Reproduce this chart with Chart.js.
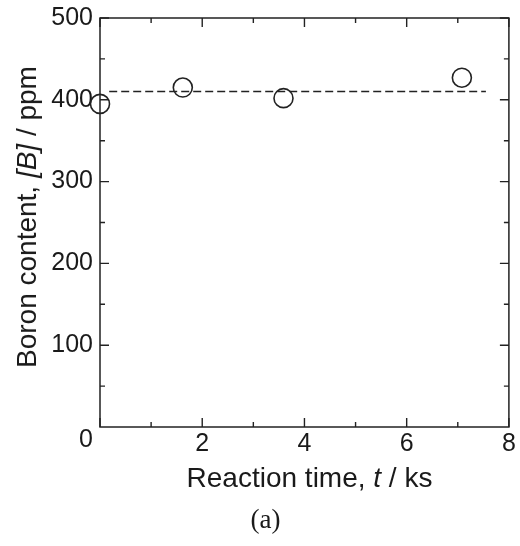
<!DOCTYPE html>
<html>
<head>
<meta charset="utf-8">
<script src="https://cdn.jsdelivr.net/npm/chart.js@4"></script>
<style>
  html, body { margin: 0; padding: 0; background: #fff; }
  #wrap { position: relative; width: 520px; height: 546px; }
  canvas { position: absolute; left: 0; top: 0; }
  .lbl { position: absolute; white-space: nowrap; line-height: 1; color: #1a1a1a;
         font-family: "Liberation Sans", Arial, sans-serif; font-size: 28px; }
  #xTitle { left: 104px; width: 411px; top: 464px; text-align: center; }
  #yTitle { left: 27px; top: 217px; transform: translate(-50%, -50%) rotate(-90deg); }
  #caption { left: 0; width: 531px; top: 506px; text-align: center;
             font-family: "Liberation Serif", "Times New Roman", serif; font-size: 27px; }
</style>
</head>
<body>
<div id="wrap">
  <canvas id="chart" width="520" height="546"></canvas>
  <div class="lbl" id="yTitle">Boron content, <i>[B]</i> / ppm</div>
  <div class="lbl" id="xTitle">Reaction time, <i>t</i> / ks</div>
  <div class="lbl" id="caption">(a)</div>
</div>
<script>
// measured points
const times = [0.0, 1.62, 3.59, 7.08];
const boron = [395, 415, 402, 427];

// dashed average line
const avgX = [0.18, 7.55];
const avgY = [410, 410];

// ticks
const xTicks = [0, 2, 4, 6, 8];
const xMinor = [1, 3, 5, 7];
const yTicks = [100, 200, 300, 400, 500];
const yMinor = [50, 150, 250, 350, 450];

const TICK_FONT = { family: "'Liberation Sans', Arial, sans-serif", size: 25 };

// frame + inward ticks on all four sides
const framePlugin = {
  id: "frame",
  afterDraw(chart) {
    const { ctx, chartArea: a, scales } = chart;
    const xs = scales.x, ys = scales.y;
    ctx.save();
    ctx.strokeStyle = "#222";
    ctx.lineWidth = 1.5;
    ctx.strokeRect(a.left, a.top, a.right - a.left, a.bottom - a.top);

    ctx.lineWidth = 1.4;
    ctx.beginPath();
    const xt = (v, len) => {
      const px = xs.getPixelForValue(v);
      ctx.moveTo(px, a.bottom); ctx.lineTo(px, a.bottom - len);
      ctx.moveTo(px, a.top); ctx.lineTo(px, a.top + len);
    };
    const yt = (v, len) => {
      const py = ys.getPixelForValue(v);
      ctx.moveTo(a.left, py); ctx.lineTo(a.left + len, py);
      ctx.moveTo(a.right, py); ctx.lineTo(a.right - len, py);
    };
    xTicks.forEach(v => xt(v, 9));
    xMinor.forEach(v => xt(v, 5));
    yTicks.forEach(v => yt(v, 9));
    yMinor.forEach(v => yt(v, 5));
    ctx.stroke();

    // shared origin label sits left of the corner
    ctx.fillStyle = "#1a1a1a";
    ctx.font = TICK_FONT.size + "px " + TICK_FONT.family;
    ctx.textAlign = "center";
    ctx.textBaseline = "middle";
    ctx.fillText("0", xs.getPixelForValue(0) - 14, a.bottom + 13);
    ctx.restore();
  }
};

new Chart(document.getElementById("chart"), {
  type: "scatter",
  data: {
    datasets: [
      {
        data: times.map((t, i) => ({ x: t, y: boron[i] })),
        pointStyle: "circle",
        pointRadius: 9.5,
        pointBorderWidth: 1.6,
        pointBorderColor: "#222",
        pointBackgroundColor: "rgba(0,0,0,0)",
        showLine: false,
        clip: false
      },
      {
        type: "line",
        data: avgX.map((t, i) => ({ x: t, y: avgY[i] })),
        borderColor: "#222",
        borderWidth: 1.5,
        borderDash: [8, 4],
        pointRadius: 0,
        fill: false
      }
    ]
  },
  options: {
    responsive: false,
    animation: false,
    layout: { padding: { left: 0, right: 9, top: 18, bottom: 0 } },
    plugins: { legend: { display: false }, tooltip: { enabled: false } },
    scales: {
      x: {
        type: "linear",
        min: 0, max: 8,
        grid: { drawOnChartArea: false, drawTicks: false },
        border: { display: false },
        ticks: {
          stepSize: 2,
          padding: 2,
          color: "#1a1a1a",
          font: TICK_FONT,
          maxRotation: 0,
          callback: v => (xTicks.includes(v) && v !== 0 ? String(v) : "")
        },
        afterFit(s) {
          s.height = 119;
          s.paddingLeft = 0; s.paddingRight = 0;
        }
      },
      y: {
        min: 0, max: 500,
        grid: { drawOnChartArea: false, drawTicks: false },
        border: { display: false },
        ticks: {
          stepSize: 100,
          padding: 7,
          color: "#1a1a1a",
          font: TICK_FONT,
          callback: v => (yTicks.includes(v) ? String(v) : "")
        },
        afterFit(s) {
          s.width = 100;
          s.paddingTop = 0; s.paddingBottom = 0;
        }
      }
    }
  },
  plugins: [framePlugin]
});
</script>
</body>
</html>
